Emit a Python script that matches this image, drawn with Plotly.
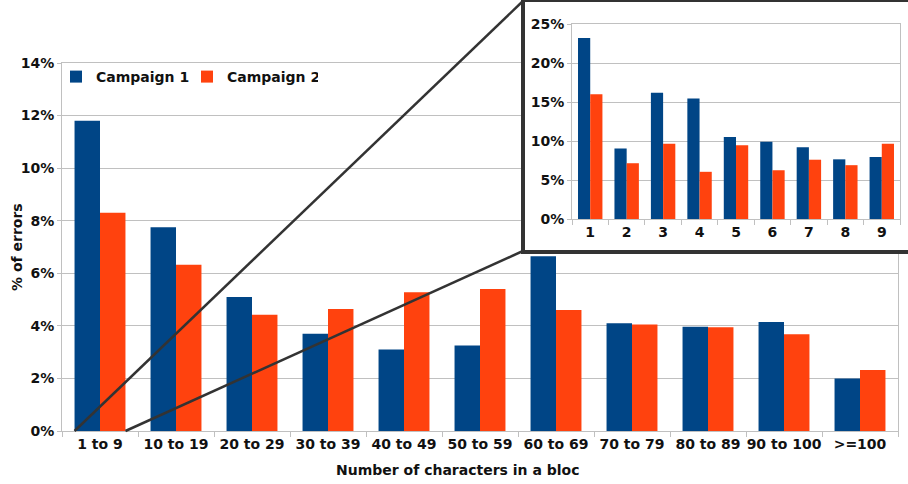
import plotly.graph_objects as go

# ---------------- data ----------------
categories = ["1 to 9", "10 to 19", "20 to 29", "30 to 39", "40 to 49", "50 to 59",
              "60 to 69", "70 to 79", "80 to 89", "90 to 100", ">=100"]
campaign1 = [11.8, 7.75, 5.1, 3.7, 3.1, 3.25, 6.65, 4.1, 3.97, 4.15, 2.0]
campaign2 = [8.3, 6.32, 4.42, 4.64, 5.28, 5.4, 4.6, 4.05, 3.95, 3.68, 2.32]

inset_categories = ["1", "2", "3", "4", "5", "6", "7", "8", "9"]
inset_campaign1 = [23.2, 9.05, 16.2, 15.45, 10.5, 9.9, 9.2, 7.65, 7.95]
inset_campaign2 = [16.0, 7.15, 9.65, 6.05, 9.45, 6.25, 7.6, 6.9, 9.65]

series_names = ["Campaign 1", "Campaign 2"]
colors = ["#004586", "#ff420e"]

# ---------------- layout geometry ----------------
W, H = 908, 484
FONT = "DejaVu Sans"
bargap = 0.33

xd = [62 / W, 898 / W]          # main plot
yd = [1 - 431 / H, 1 - 63 / H]
xbox = [525 / W, 1.0]           # inset frame (white box)
ybox = [1 - 250 / H, 1 - 2 / H]
xd2 = [572 / W, 900 / W]        # inset plot
yd2 = [1 - 219 / H, 1 - 24 / H]

fig = go.Figure()
for name, vals, col in zip(series_names, [campaign1, campaign2], colors):
    fig.add_trace(go.Bar(x=categories, y=vals, name=name, marker_color=col,
                         marker_line_width=0, xaxis="x", yaxis="y"))
# empty trace that establishes the frame subplot (x2/y2)
fig.add_trace(go.Scatter(x=[], y=[], xaxis="x2", yaxis="y2", showlegend=False,
                         hoverinfo="skip"))
for name, vals, col in zip(series_names, [inset_campaign1, inset_campaign2], colors):
    fig.add_trace(go.Bar(x=inset_categories, y=vals, name=name, marker_color=col,
                         marker_line_width=0, xaxis="x3", yaxis="y3", showlegend=False))

tickfont = dict(family=FONT, size=14, color="#111111", weight="bold")
grid = "#c0c0c0"

common_x = dict(type="category", showline=True, linecolor=grid, linewidth=1,
                ticks="outside", tickson="boundaries", ticklen=5, tickcolor=grid,
                tickfont=tickfont, showgrid=False, mirror=True, tickangle=0,
                automargin=False)
common_y = dict(showline=True, linecolor=grid, linewidth=1, mirror=True,
                ticks="outside", ticklen=4, tickcolor=grid, tickfont=tickfont,
                showgrid=True, gridcolor=grid, gridwidth=1, ticksuffix="%",
                zeroline=False, automargin=False)
frame_axis = dict(showline=True, linecolor="#333333", linewidth=4, mirror=True,
                  showgrid=False, zeroline=False, showticklabels=False, ticks="",
                  range=[0, 1], fixedrange=True, automargin=False)

fig.update_layout(
    width=W, height=H,
    margin=dict(l=0, r=0, t=0, b=0, autoexpand=False),
    paper_bgcolor="white", plot_bgcolor="white",
    barmode="group", bargap=bargap, bargroupgap=0,
    xaxis=dict(domain=xd, anchor="y", range=[-0.5, len(categories) - 0.5], **common_x),
    yaxis=dict(domain=yd, anchor="x", range=[0, 14], dtick=2, **common_y),
    xaxis2=dict(domain=xbox, anchor="y2", **frame_axis),
    yaxis2=dict(domain=ybox, anchor="x2", **frame_axis),
    xaxis3=dict(domain=xd2, anchor="y3", range=[-0.5, len(inset_categories) - 0.5], **common_x),
    yaxis3=dict(domain=yd2, anchor="x3", range=[0, 25], dtick=5, **common_y),
    legend=dict(orientation="h", x=56 / W, xanchor="left", y=1 - 77 / H, yanchor="middle",
                font=dict(family=FONT, size=14, color="#111111", weight="bold"),
                bgcolor="rgba(0,0,0,0)", entrywidth=86, entrywidthmode="pixels",
                itemwidth=30, tracegroupgap=0),
    showlegend=True,
)

title_font = dict(family=FONT, size=14, color="#111111", weight="bold")
# axis titles as annotations (placed as in reference)
fig.add_annotation(text="Number of characters in a bloc", xref="paper", yref="paper",
                   x=458 / W, y=1 - 470 / H, showarrow=False, xanchor="center", yanchor="middle",
                   font=title_font)
fig.add_annotation(text="% of errors", xref="paper", yref="paper", textangle=-90,
                   x=17 / W, y=(yd[0] + yd[1]) / 2, showarrow=False,
                   xanchor="center", yanchor="middle", font=title_font)

# zoom connector lines from first category bars to inset frame corners
mx0, mx1 = xd
my0 = yd[0]

def main_x(v):
    return mx0 + (v + 0.5) / len(categories) * (mx1 - mx0)

half = (1 - bargap) / 2
corner_x = xbox[0] - 2 / W
fig.add_shape(type="line", xref="paper", yref="paper", layer="above",
              x0=main_x(-half), y0=my0, x1=corner_x, y1=ybox[1] + 1 / H,
              line=dict(color="#333333", width=2.5))
fig.add_shape(type="line", xref="paper", yref="paper", layer="above",
              x0=main_x(half), y0=my0, x1=corner_x, y1=ybox[0] - 1 / H,
              line=dict(color="#333333", width=2.5))

fig.write_html("out.html", config={"displayModeBar": False},
               post_script="document.body.style.margin='0';")
